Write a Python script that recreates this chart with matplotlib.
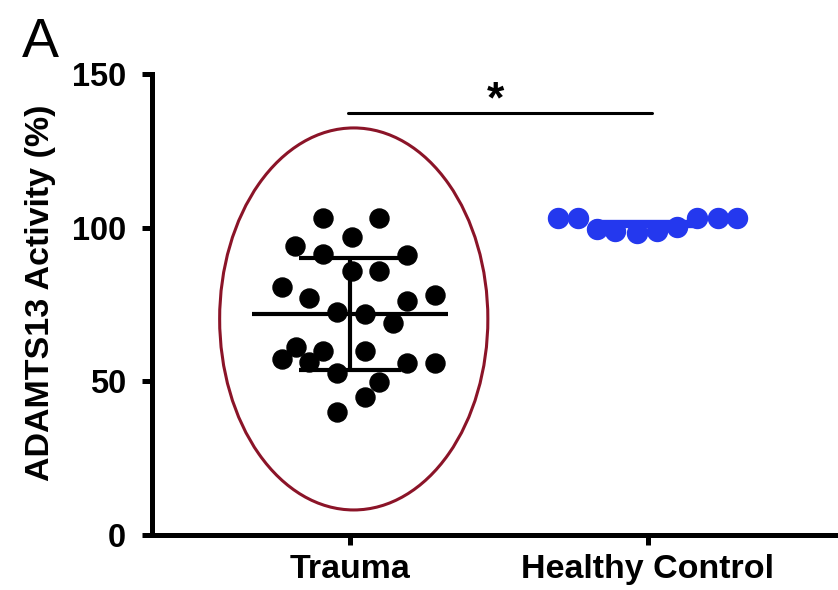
import numpy as np
import matplotlib
matplotlib.use("Agg")
import matplotlib.pyplot as plt
from matplotlib.patches import Ellipse

categories = ["Trauma", "Healthy Control"]
trauma_values = [103.1, 103.1, 97.1, 94.0, 91.4, 91.1, 86.0, 86.0, 80.8, 77.0,
                 76.1, 78.0, 72.7, 71.9, 68.9, 61.3, 60.0, 60.0, 57.2, 56.4,
                 56.1, 56.1, 52.8, 49.9, 45.0, 40.1]
trauma_jitter = [-0.090, 0.098, 0.006, -0.185, -0.090, 0.192, 0.006, 0.098, -0.229, -0.137,
                 0.192, 0.285, -0.043, 0.050, 0.145, -0.181, -0.090, 0.050, -0.229, -0.137,
                 0.192, 0.285, -0.043, 0.098, 0.050, -0.043]
healthy_values = [103.0, 103.0, 99.5, 99.0, 98.3, 99.0, 100.3, 103.0, 103.0, 103.0]
healthy_jitter = [-0.30, -0.235, -0.17, -0.11, -0.037, 0.03, 0.097, 0.164, 0.235, 0.30]
yticks = [0, 50, 100, 150]

plt.rcParams['font.family'] = ['Liberation Sans', 'DejaVu Sans']

fig = plt.figure(figsize=(8.38, 5.90), dpi=100)
ax = fig.add_axes([152/838, 1-535/590, 1-152/838, (535-74)/590])

xpos = np.arange(len(categories))
lw = 3.6

# Trauma
tv = np.array(trauma_values)
ax.plot(xpos[0] + np.array(trauma_jitter), tv, 'o', color='black', ms=13.7, zorder=3)
m, s = tv.mean(), tv.std(ddof=1)
ax.hlines(m, xpos[0]-0.33, xpos[0]+0.33, color='black', lw=3, zorder=4)
ax.vlines(xpos[0], m-s, m+s, color='black', lw=3, zorder=4)
ax.hlines([m-s, m+s], xpos[0]-0.17, xpos[0]+0.17, color='black', lw=3, zorder=4)

# Healthy
hv = np.array(healthy_values)
blue = '#2438ee'
ax.plot(xpos[1] + np.array(healthy_jitter), hv, 'o', color=blue, ms=14.4, zorder=3)
hm, hs = hv.mean(), hv.std(ddof=1)
ax.hlines(hm, xpos[1]-0.18, xpos[1]+0.15, color=blue, lw=6, zorder=4)

# Ellipse
ell = Ellipse((0.013, 70.3), 0.9, 124.3, fill=False, edgecolor='#8b1428', lw=2.2, zorder=2)
ax.add_patch(ell)

# Significance bar
ax.plot([-0.007, 1.013], [137.3, 137.3], color='black', lw=2.2, solid_capstyle='round')
ax.text(0.490, 134.5, '*', ha='center', va='bottom', fontsize=32, fontweight='bold')

ax.set_xlim(-0.664, 1.638)
ax.set_ylim(0, 150)
ax.set_yticks(yticks)
ax.set_xticks(xpos)
ax.set_xticklabels(categories)
for sp in ['top', 'right']:
    ax.spines[sp].set_visible(False)
for sp in ['left', 'bottom']:
    ax.spines[sp].set_linewidth(lw)
    ax.spines[sp].set_capstyle('projecting')
ax.tick_params(axis='both', direction='out', length=7.5, width=lw)
ax.tick_params(axis='x', pad=6, labelsize=24.5)
ax.tick_params(axis='y', pad=11, labelsize=23.5)
for lab in ax.get_xticklabels() + ax.get_yticklabels():
    lab.set_fontweight('bold')

fig.text(40/838, 1-293/590, 'ADAMTS13 Activity (%)', rotation=90, ha='center', va='center',
         fontsize=24.5, fontweight='bold')

fig.text(22/838, 1-57/590, 'A', fontsize=40, ha='left', va='baseline')

fig.savefig('out.png', dpi=100)
